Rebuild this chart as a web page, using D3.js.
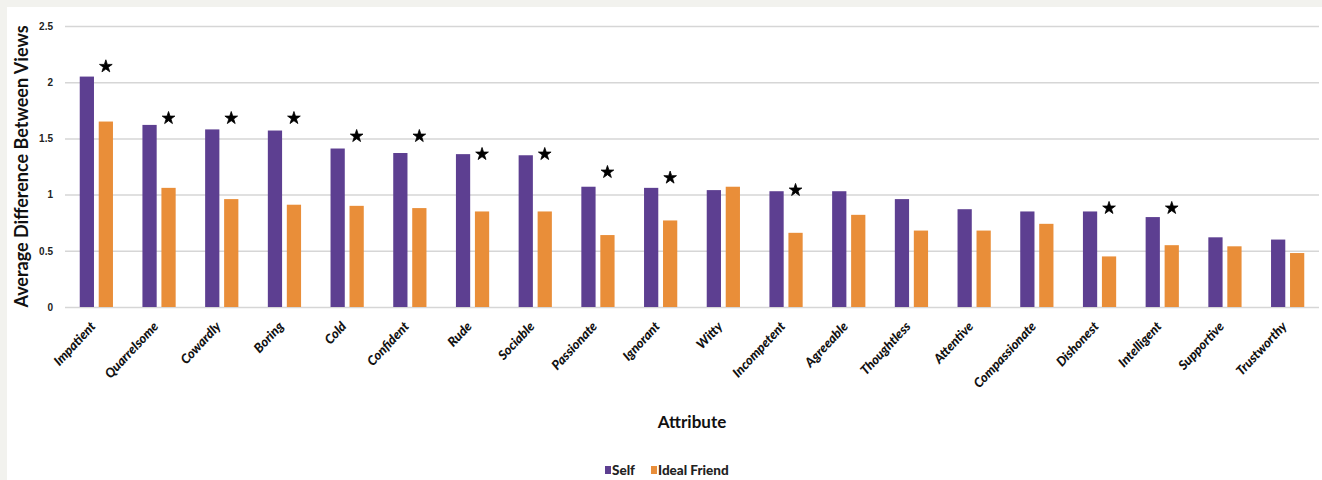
<!doctype html>
<html lang="en">
  <head>
    <meta charset="UTF-8" />
    <title>Average Difference Between Views by Attribute</title>
    <script src="https://d3js.org/d3.v7.min.js"></script>
    <style>
      body {
        margin: 0;
        background-color: #f2f2ee;
      }

      svg {
        display: block;
        font-family: Lato, 'Open Sans', Arial, sans-serif;
      }

      .grid line {
        stroke: #d6d6d6;
        stroke-width: 1.5;
      }

      .grid path {
        display: none;
      }

      .y-tick text {
        font-size: 10px;
        font-weight: bold;
        fill: #222;
      }

      .x-label {
        font-size: 13px;
        font-weight: 900;
        font-style: italic;
        fill: #111;
      }

      .axis-title {
        font-weight: bold;
        fill: #111;
      }

      .legend text {
        font-size: 13.5px;
        font-weight: 900;
        fill: #222;
      }
    </style>
  </head>
  <body>
    <svg id="chart" width="1322" height="480"></svg>

    <script>
      // Attributes, in the order shown
      const attributes = [
        'Impatient', 'Quarrelsome', 'Cowardly', 'Boring', 'Cold', 'Confident', 'Rude',
        'Sociable', 'Passionate', 'Ignorant', 'Witty', 'Incompetent', 'Agreeable',
        'Thoughtless', 'Attentive', 'Compassionate', 'Dishonest', 'Intelligent',
        'Supportive', 'Trustworthy',
      ]

      // Average difference between views
      const selfValues = [
        2.05, 1.62, 1.58, 1.57, 1.41, 1.37, 1.36, 1.35, 1.07, 1.06, 1.04, 1.03, 1.03,
        0.96, 0.87, 0.85, 0.85, 0.8, 0.62, 0.6,
      ]
      const idealFriendValues = [
        1.65, 1.06, 0.96, 0.91, 0.9, 0.88, 0.85, 0.85, 0.64, 0.77, 1.07, 0.66, 0.82,
        0.68, 0.68, 0.74, 0.45, 0.55, 0.54, 0.48,
      ]

      // Significance markers (*): level on the value axis, null where none
      const starLevels = [
        2.14, 1.68, 1.68, 1.68, 1.52, 1.52, 1.36, 1.36, 1.2, 1.15, null, 1.04, null,
        null, null, null, 0.88, 0.88, null, null,
      ]

      const seriesNames = ['Self', 'Ideal Friend']
      const yTicks = [0, 0.5, 1, 1.5, 2, 2.5]

      const colors = { Self: '#5d3f91', 'Ideal Friend': '#e98e39' }

      const rows = attributes.map((a, i) => ({
        attribute: a,
        values: [
          { series: 'Self', value: selfValues[i] },
          { series: 'Ideal Friend', value: idealFriendValues[i] },
        ],
        star: starLevels[i],
      }))

      const svg = d3.select('#chart')
      const width = +svg.attr('width')
      const height = +svg.attr('height')
      const margin = { top: 26, right: 3, bottom: 173, left: 65 }
      const chartWidth = width - margin.left - margin.right
      const chartHeight = height - margin.top - margin.bottom

      // White panel on the light grey page
      svg.append('rect').attr('width', width).attr('height', height).attr('fill', '#f2f2ee')
      svg.append('rect').attr('x', 7).attr('y', 7).attr('width', width - 7).attr('height', height - 7).attr('fill', '#fff')

      const x0 = d3.scaleBand().domain(attributes).range([0, chartWidth]).paddingInner(0.47).paddingOuter(0.235)
      const x1 = d3.scaleBand().domain(seriesNames).range([0, x0.bandwidth()]).paddingInner(0.25)
      const y = d3.scaleLinear().domain([0, 2.5]).range([chartHeight, 0])

      const g = svg.append('g').attr('transform', `translate(${margin.left},${margin.top})`)

      // Gridlines (including the baseline)
      g.append('g')
        .attr('class', 'grid')
        .call(d3.axisLeft(y).tickValues(yTicks).tickSize(-chartWidth).tickFormat(''))

      // Y tick labels
      g.append('g')
        .attr('class', 'y-tick')
        .call(d3.axisLeft(y).tickValues(yTicks).tickSize(0).tickPadding(12).tickFormat(d3.format('')))
        .call((a) => a.select('.domain').remove())

      // Bars
      const groups = g
        .selectAll('.group')
        .data(rows)
        .enter()
        .append('g')
        .attr('class', 'group')
        .attr('transform', (d) => `translate(${x0(d.attribute)},0)`)

      groups
        .selectAll('rect')
        .data((d) => d.values)
        .enter()
        .append('rect')
        .attr('x', (d) => x1(d.series))
        .attr('y', (d) => y(d.value))
        .attr('width', x1.bandwidth())
        .attr('height', (d) => chartHeight - y(d.value))
        .attr('fill', (d) => colors[d.series])

      // Stars over significant pairs
      groups
        .filter((d) => d.star !== null)
        .append('path')
        .attr('d', d3.symbol().type(d3.symbolStar).size(50))
        .attr('transform', (d) => `translate(${x1('Ideal Friend') + x1.bandwidth() / 2},${y(d.star)})`)
        .attr('fill', '#000')
        .attr('stroke', '#000')
        .attr('stroke-width', 0.8)
        .attr('stroke-linejoin', 'round')

      // Rotated category labels
      g.append('g')
        .selectAll('text')
        .data(attributes)
        .enter()
        .append('text')
        .attr('class', 'x-label')
        .attr('text-anchor', 'end')
        .attr('transform', (d) => `translate(${x0(d) + x0.bandwidth() / 2},${chartHeight + 20}) rotate(-47)`)
        .text((d) => d)

      // Axis titles
      svg.append('text')
        .attr('class', 'axis-title')
        .attr('text-anchor', 'middle')
        .attr('transform', `translate(28,${margin.top + chartHeight / 2}) rotate(-90)`)
        .style('font-size', '18px')
        .text('Average Difference Between Views')

      svg.append('text')
        .attr('class', 'axis-title')
        .attr('text-anchor', 'middle')
        .attr('x', 692)
        .attr('y', 428)
        .style('font-size', '17px')
        .text('Attribute')

      // Legend
      const legend = svg.append('g').attr('class', 'legend').attr('transform', 'translate(605,475)')
      let lx = 0
      seriesNames.forEach((name) => {
        legend.append('rect').attr('x', lx).attr('y', -9).attr('width', 6).attr('height', 8).attr('fill', colors[name])
        const t = legend.append('text').attr('x', lx + 7).attr('y', 0).text(name)
        lx += 7 + t.node().getComputedTextLength() + 16
      })
    </script>
  </body>
</html>
